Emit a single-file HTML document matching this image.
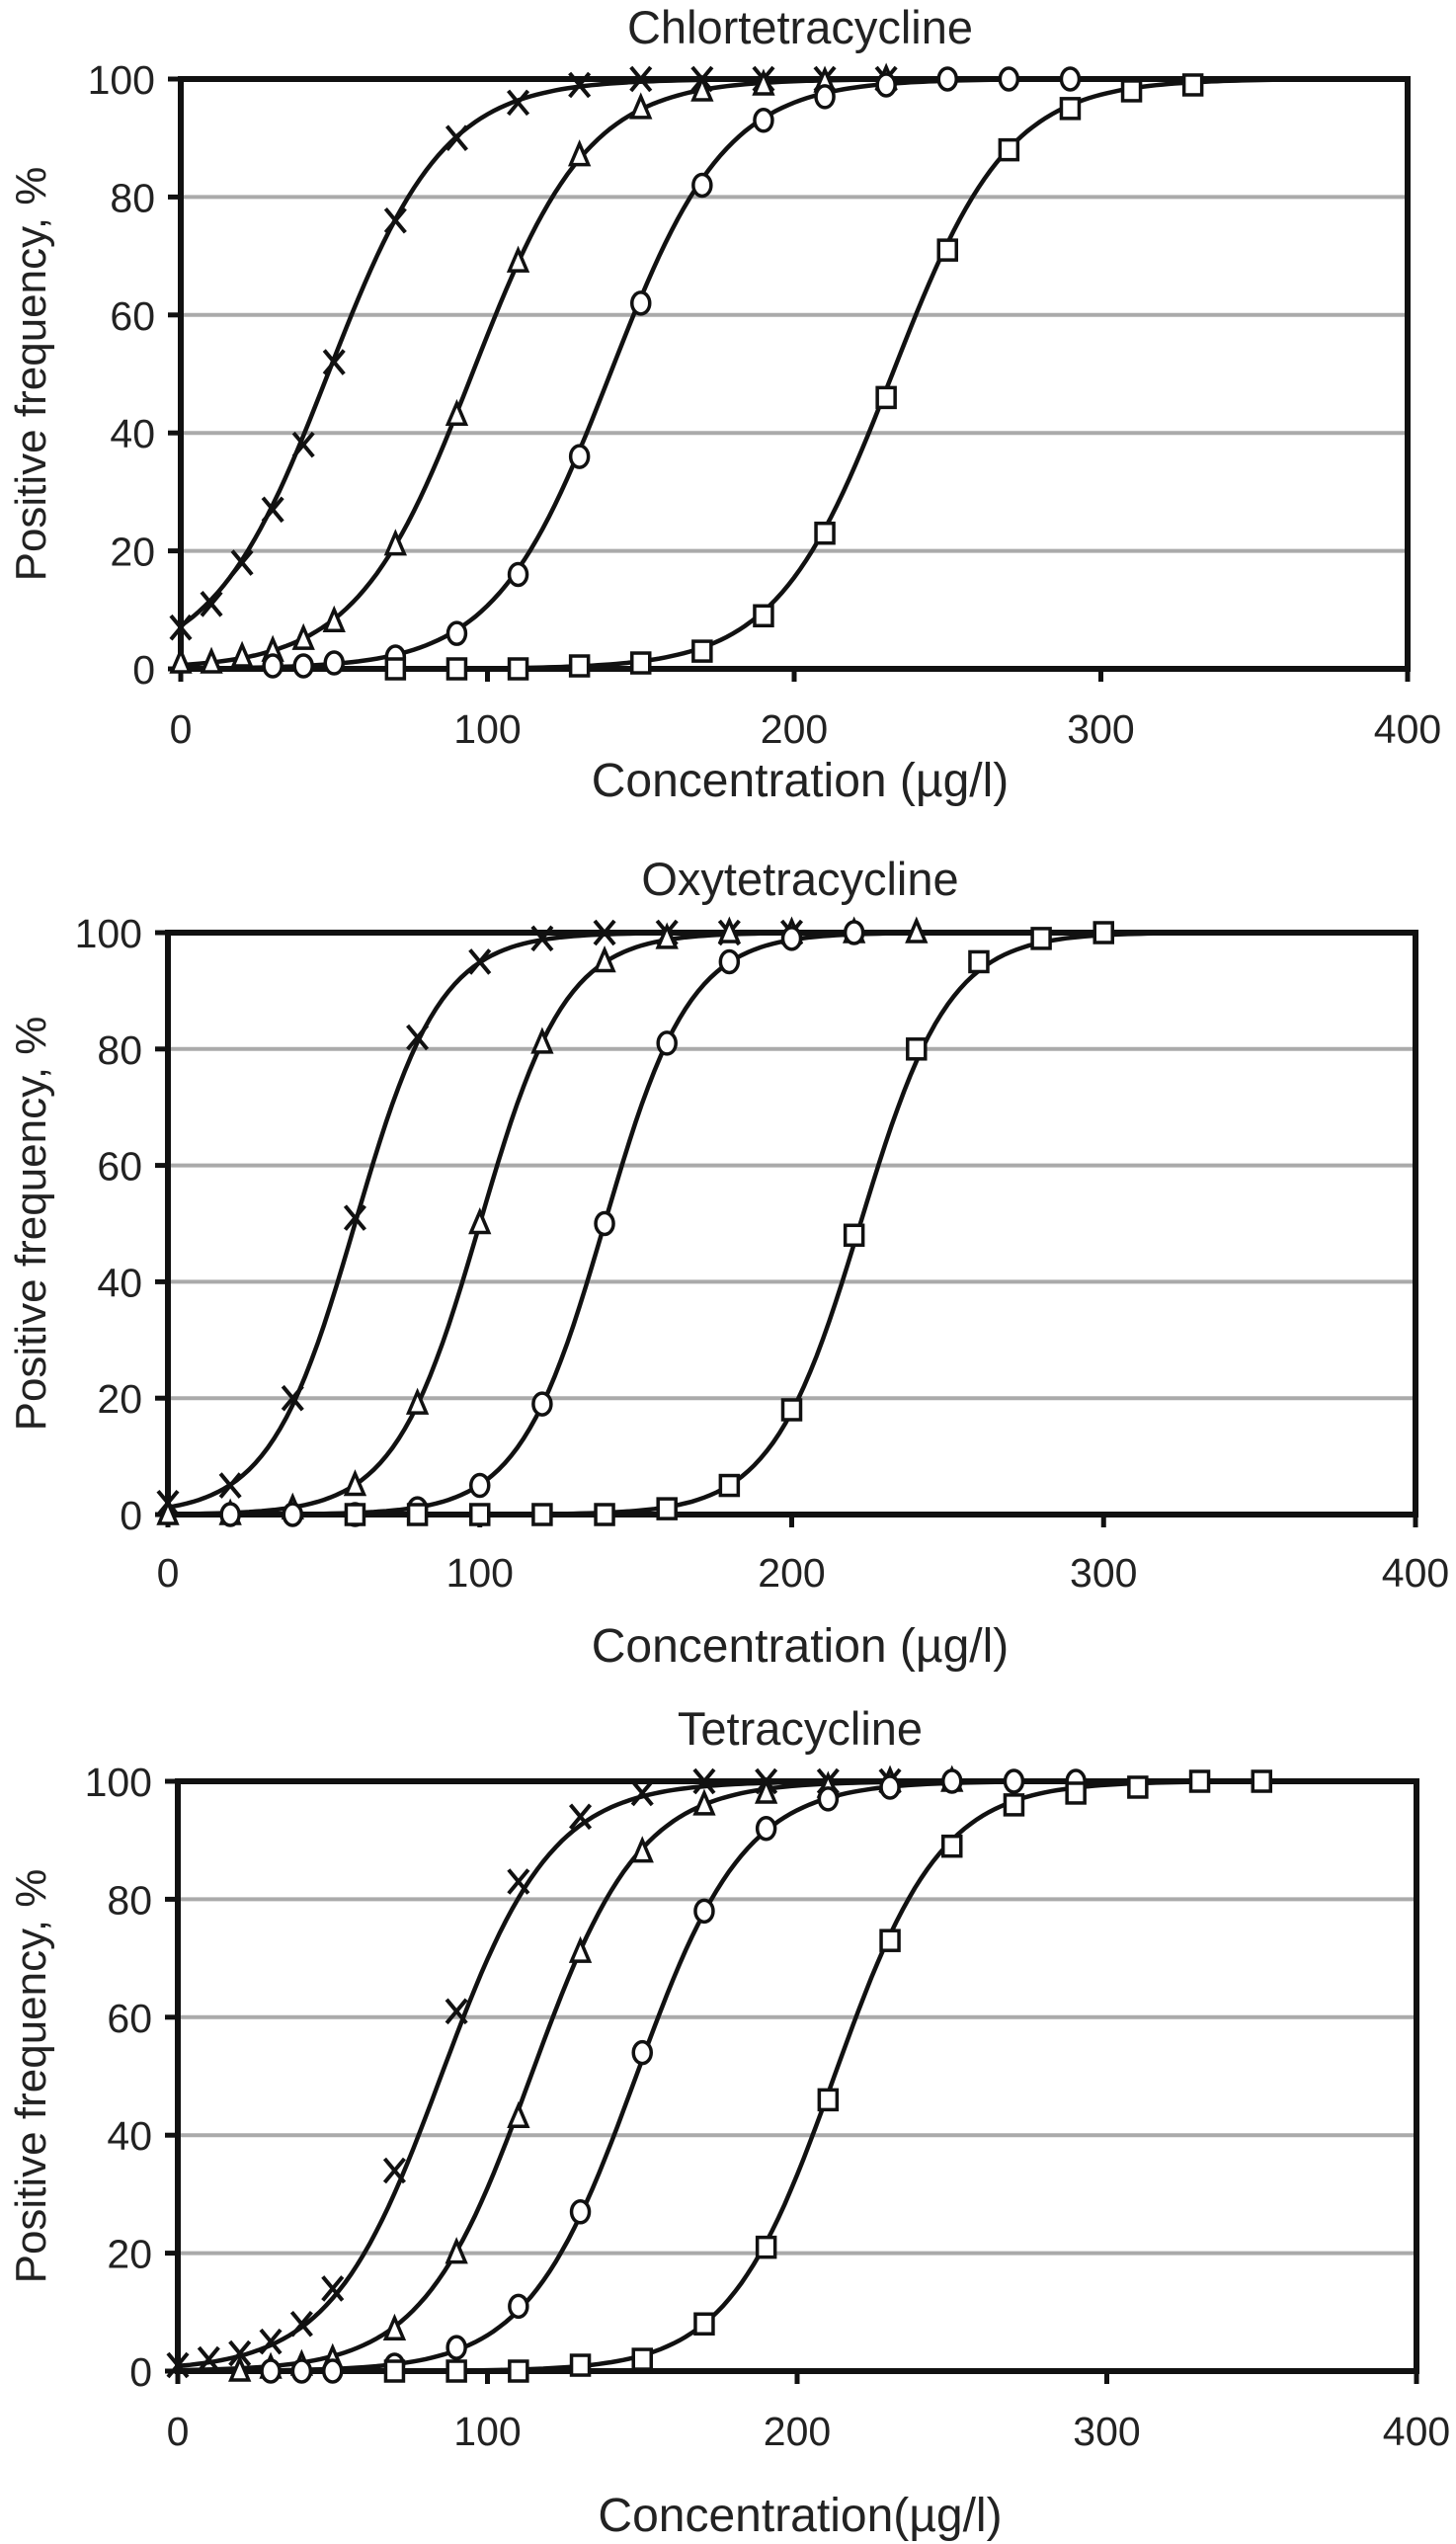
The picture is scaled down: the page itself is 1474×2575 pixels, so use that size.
<!DOCTYPE html>
<html><head><meta charset="utf-8"><style>
html,body{margin:0;padding:0;background:#fff;}
svg{display:block;}
text{font-family:"Liberation Sans Narrow","Liberation Sans",sans-serif;fill:#222;}
.ylab{font-family:"Liberation Sans",sans-serif;}
</style></head><body>
<svg id="fig" width="1474" height="2575" viewBox="0 0 1474 2575"></svg>
<script>
// ---- data ----
const xTicks=[0,100,200,300,400];
const yTicks=[0,20,40,60,80,100];
const titles=["Chlortetracycline","Oxytetracycline","Tetracycline"];
const xTitles=["Concentration (\u00b5g/l)","Concentration (\u00b5g/l)","Concentration(\u00b5g/l)"];
const markerTypes=["cross","triangle","circle","square"];
// chart 1 (CTC)
const c1CrossX=[0,10,20,30,40,50,70,90,110,130,150,170,190,210,230];
const c1CrossY=[7,11,18,27,38,52,76,90,96,99,100,100,100,100,100];
const c1TriX=[0,10,20,30,40,50,70,90,110,130,150,170,190,210,230];
const c1TriY=[1,1,2,3,5,8,21,43,69,87,95,98,99,99.5,100];
const c1CirX=[30,40,50,70,90,110,130,150,170,190,210,230,250,270,290];
const c1CirY=[0.5,0.5,1,2,6,16,36,62,82,93,97,99,100,100,100];
const c1SqX=[70,90,110,130,150,170,190,210,230,250,270,290,310,330];
const c1SqY=[0,0,0,0.5,1,3,9,23,46,71,88,95,98,99];
const c1Mid=[48,95,140,232];
const c1Slope=[0.053,0.053,0.053,0.053];
// chart 2 (OTC)
const c2CrossX=[0,20,40,60,80,100,120,140,160,180,200];
const c2CrossY=[2,5,20,51,82,95,99,100,100,100,100];
const c2TriX=[0,20,40,60,80,100,120,140,160,180,200,220,240];
const c2TriY=[0,0,1,5,19,50,81,95,99,100,100,100,100];
const c2CirX=[20,40,60,80,100,120,140,160,180,200,220];
const c2CirY=[0,0,0,1,5,19,50,81,95,99,100];
const c2SqX=[60,80,100,120,140,160,180,200,220,240,260,280,300];
const c2SqY=[0,0,0,0,0,1,5,18,48,80,95,99,100];
const c2Mid=[60,100,140,222];
const c2Slope=[0.073,0.073,0.073,0.07];
// chart 3 (TC)
const c3CrossX=[0,10,20,30,40,50,70,90,110,130,150,170,190,210,230];
const c3CrossY=[1,2,3,5,8,14,34,61,83,94,98,100,100,100,100];
const c3TriX=[20,30,40,50,70,90,110,130,150,170,190,210,230,250];
const c3TriY=[0,0.5,1,2,7,20,43,71,88,96,98,99,100,100];
const c3CirX=[30,40,50,70,90,110,130,150,170,190,210,230,250,270,290];
const c3CirY=[0,0,0,1,4,11,27,54,78,92,97,99,100,100,100];
const c3SqX=[70,90,110,130,150,170,190,210,230,250,270,290,310,330,350];
const c3SqY=[0,0,0,1,2,8,21,46,73,89,96,98,99,100,100];
const c3Mid=[85,114,148,212];
const c3Slope=[0.056,0.057,0.057,0.058];

const charts=[
 {L:183,R:1425,T:80,B:677,titleY:44,xlabY:752,xtitleY:806,
  xs:[c1CrossX,c1TriX,c1CirX,c1SqX],ys:[c1CrossY,c1TriY,c1CirY,c1SqY],mid:c1Mid,k:c1Slope},
 {L:170,R:1433,T:944,B:1533,titleY:906,xlabY:1606,xtitleY:1682,
  xs:[c2CrossX,c2TriX,c2CirX,c2SqX],ys:[c2CrossY,c2TriY,c2CirY,c2SqY],mid:c2Mid,k:c2Slope},
 {L:180,R:1434,T:1803,B:2400,titleY:1766,xlabY:2475,xtitleY:2562,
  xs:[c3CrossX,c3TriX,c3CirX,c3SqX],ys:[c3CrossY,c3TriY,c3CirY,c3SqY],mid:c3Mid,k:c3Slope}
];
const NS="http://www.w3.org/2000/svg";
const svg=document.getElementById('fig');
function mk(tag,attrs,parent){const e=document.createElementNS(NS,tag);for(const k in attrs)e.setAttribute(k,attrs[k]);(parent||svg).appendChild(e);return e;}

charts.forEach((c,ci)=>{
  const g=mk('g',{});
  
  
  const sx=v=>c.L+(c.R-c.L)*v/400;
  const sy=v=>c.B-(c.B-c.T)*v/100;
  yTicks.forEach(t=>{if(t===0||t===100)return;
    const l=mk('line',{x1:c.L,x2:c.R,y1:sy(t),y2:sy(t),stroke:'#aaa','stroke-width':4},g);
    
    
  });
  c.mid.forEach((m,si)=>{
    let d='';
    for(let x=0;x<=400;x+=2){const y=100/(1+Math.exp(-c.k[si]*(x-m)));d+=(x?'L':'M')+sx(x).toFixed(1)+','+sy(y).toFixed(1);}
    const p=mk('path',{d:d,fill:'none',stroke:'#111','stroke-width':4.5},g);
    
    
  });
  const fr=mk('rect',{x:c.L,y:c.T,width:c.R-c.L,height:c.B-c.T,fill:'none',stroke:'#111','stroke-width':6},g);
  
  
  xTicks.forEach(t=>{
    const tk=mk('line',{x1:sx(t),x2:sx(t),y1:c.B,y2:c.B+13,stroke:'#111','stroke-width':5},g);
    
    
    const tl=mk('text',{x:sx(t),y:c.xlabY,'font-size':41,'text-anchor':'middle'},g);tl.textContent=t;
    
    
  });
  yTicks.forEach(t=>{
    const tk=mk('line',{x1:c.L-13,x2:c.L,y1:sy(t),y2:sy(t),stroke:'#111','stroke-width':5},g);
    
    
    const tl=mk('text',{x:c.L-26,y:sy(t)+15,'font-size':41,'text-anchor':'end'},g);tl.textContent=t;
    
    
  });
  c.xs.forEach((xa,si)=>{
    const type=markerTypes[si];
    xa.forEach((xv,i)=>{
      const px=sx(xv),py=sy(c.ys[si][i]);let m;
      if(type==='cross'){m=mk('path',{d:`M${px-10},${py-12}L${px+10},${py+12}M${px+10},${py-12}L${px-10},${py+12}`,stroke:'#111','stroke-width':4,fill:'none'},g);}
      else if(type==='triangle'){m=mk('path',{d:`M${px},${py-12}L${px+9},${py+9}L${px-9},${py+9}Z`,stroke:'#111','stroke-width':3.5,fill:'#fff'},g);}
      else if(type==='circle'){m=mk('ellipse',{cx:px,cy:py,rx:9,ry:11,stroke:'#111','stroke-width':3.5,fill:'#fff'},g);}
      else {m=mk('rect',{x:px-9,y:py-10,width:18,height:20,stroke:'#111','stroke-width':3.5,fill:'#fff'},g);}
      
      
    });
  });
  const tt=mk('text',{x:810,y:c.titleY,'font-size':47,'text-anchor':'middle'},g);tt.textContent=titles[ci];
  
  
  const xt=mk('text',{x:810,y:c.xtitleY,'font-size':48,'text-anchor':'middle'},g);xt.textContent=xTitles[ci];
  
  
  const cy=(c.T+c.B)/2;
  const yt=mk('text',{x:0,y:0,'font-size':44,'text-anchor':'middle','class':'ylab',transform:`translate(46,${cy}) rotate(-90)`},g);yt.textContent='Positive frequency, %';
  
  
});
</script>
</body></html>
